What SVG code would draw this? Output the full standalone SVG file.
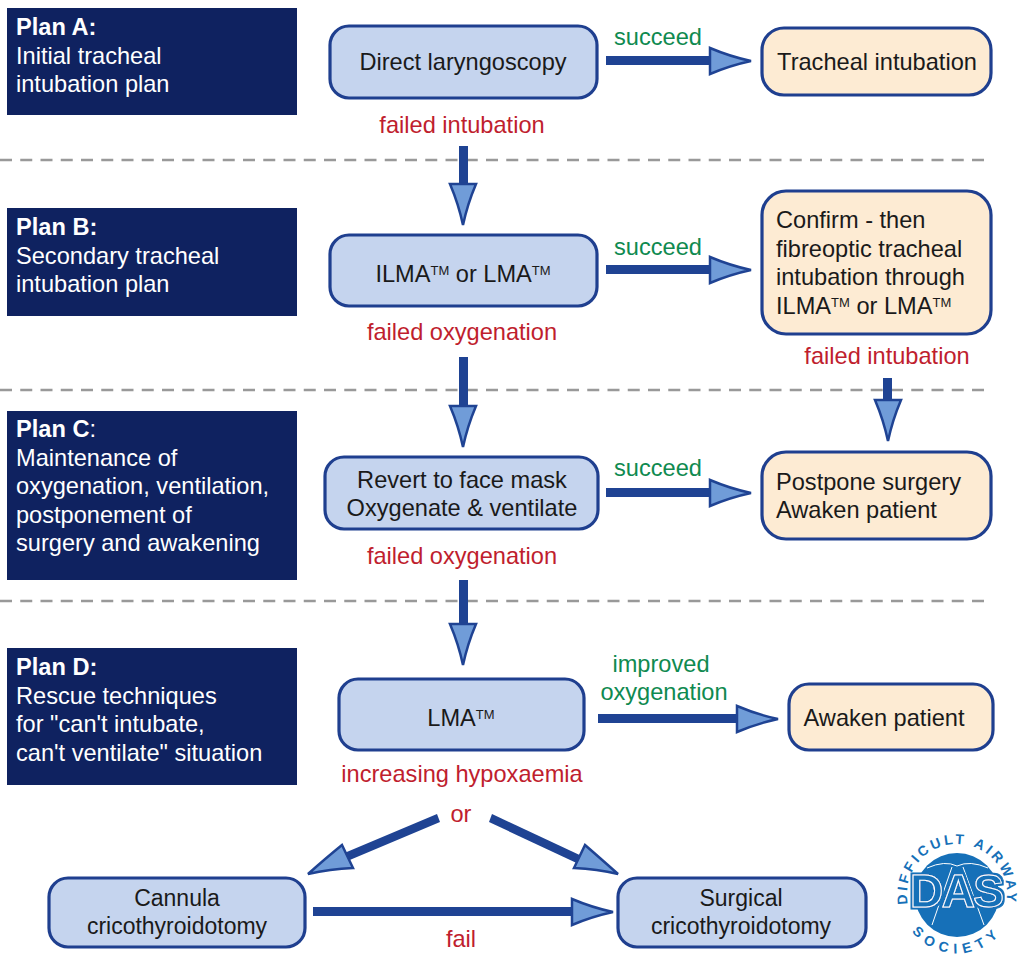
<svg xmlns="http://www.w3.org/2000/svg" width="1024" height="965" viewBox="0 0 1024 965">
<style>
text{font-family:"Liberation Sans",Arial,sans-serif;font-size:23.600px}
.plan{fill:#0f2260}
.pt{fill:#fff}
.pt .b{font-weight:bold}
.bl{fill:#c5d4ee;stroke:#1f3f8f;stroke-width:3.2}
.or{fill:#fdebd3;stroke:#1f3f8f;stroke-width:3.2}
.t{fill:#1a1a1a}
.c{text-anchor:middle}
.s{font-size:23px}
.g{fill:#0f8a50}
.r{fill:#bf1e2e}
.sh{fill:#1f4393}
.hd{fill:#709cd8;stroke:#1f4393;stroke-width:2.500;stroke-linejoin:miter}
.dash{stroke:#999;stroke-width:2.500;stroke-dasharray:12 8.250;fill:none}
.sup{font-size:13px}
.logo{fill:#1670b8;font-weight:bold;font-size:14px}
</style>
<defs>
<path id="arcTop" d="M909 908A50 50 0 1 1 1005 908"/>
<path id="arcBot" d="M905 921A58 58 0 0 0 1009 921"/>
<path id="head" class="hd" d="M0 -13V13Q20 4.500 41 0Q20 -4.500 0 -13Z"/>
<filter id="halo" x="-10%" y="-10%" width="120%" height="120%">
<feMorphology in="SourceAlpha" operator="dilate" radius="1.500" result="d"/>
<feFlood flood-color="#1670b8"/>
<feComposite in2="d" operator="in" result="o"/>
<feMerge><feMergeNode in="o"/><feMergeNode in="SourceGraphic"/></feMerge>
</filter>
</defs>
<rect width="1024" height="965" fill="#fff"/>
<g id="dividers">
<path class="dash" d="M0 160H986"/>
<path class="dash" d="M0 390H986"/>
<path class="dash" d="M0 601H986"/>
</g>
<g id="plan-a"><rect class="plan" x="7" y="8" width="290" height="107"/><text class="pt" x="16" y="35"><tspan class="b">Plan A:</tspan><tspan x="16" dy="28.500">Initial tracheal</tspan><tspan x="16" dy="28.500">intubation plan</tspan></text></g>
<g id="plan-b"><rect class="plan" x="7" y="208" width="290" height="108"/><text class="pt" x="16" y="235"><tspan class="b">Plan B:</tspan><tspan x="16" dy="28.500">Secondary tracheal</tspan><tspan x="16" dy="28.500">intubation plan</tspan></text></g>
<g id="plan-c"><rect class="plan" x="7" y="411" width="290" height="169"/><text class="pt" x="16" y="437"><tspan class="b">Plan C</tspan>:<tspan x="16" dy="28.500">Maintenance of</tspan><tspan x="16" dy="28.500">oxygenation, ventilation,</tspan><tspan x="16" dy="28.500">postponement of</tspan><tspan x="16" dy="28.500">surgery and awakening</tspan></text></g>
<g id="plan-d"><rect class="plan" x="7" y="648" width="290" height="137"/><text class="pt" x="16" y="675"><tspan class="b">Plan D:</tspan><tspan x="16" dy="28.500">Rescue techniques</tspan><tspan x="16" dy="28.500">for "can't intubate,</tspan><tspan x="16" dy="28.500">can't ventilate" situation</tspan></text></g>

<g id="direct-laryngoscopy"><rect class="bl" x="330" y="26" width="267" height="72" rx="19"/><text class="t c" x="463" y="70">Direct laryngoscopy</text></g>
<g id="tracheal-intubation"><rect class="or" x="762" y="28" width="229" height="67" rx="22"/><text class="t c" x="877" y="70">Tracheal intubation</text></g>
<g id="ilma-lma"><rect class="bl" x="330" y="235" width="267" height="71" rx="19"/><text class="t c" x="463" y="282">ILMA<tspan class="sup" dy="-7">TM</tspan><tspan dy="7"> or LMA</tspan><tspan class="sup" dy="-7">TM</tspan></text></g>
<g id="confirm"><rect class="or" x="762" y="191" width="229" height="143" rx="24"/><text class="t" x="776" y="228">Confirm - then<tspan x="776" dy="28.500">fibreoptic tracheal</tspan><tspan x="776" dy="28.500">intubation through</tspan><tspan x="776" dy="28.500">ILMA</tspan><tspan class="sup" dy="-7">TM</tspan><tspan dy="7"> or LMA</tspan><tspan class="sup" dy="-7">TM</tspan></text></g>
<g id="revert"><rect class="bl" x="325" y="457" width="273" height="72" rx="19"/><text class="t c" x="462" y="488">Revert to face mask<tspan x="462" dy="28">Oxygenate &amp; ventilate</tspan></text></g>
<g id="postpone"><rect class="or" x="762" y="452" width="229" height="87" rx="24"/><text class="t" x="776" y="490">Postpone surgery<tspan x="776" dy="28">Awaken patient</tspan></text></g>
<g id="lma"><rect class="bl" x="339" y="679" width="245" height="71" rx="19"/><text class="t c" x="461" y="726">LMA<tspan class="sup" dy="-7">TM</tspan></text></g>
<g id="awaken"><rect class="or" x="789" y="684" width="204" height="66" rx="20"/><text class="t c" x="884" y="726">Awaken patient</text></g>
<g id="cannula"><rect class="bl" x="49" y="878" width="256" height="69" rx="19"/><text class="t c s" x="177" y="906">Cannula<tspan x="177" dy="28">cricothyroidotomy</tspan></text></g>
<g id="surgical"><rect class="bl" x="618" y="878" width="248" height="69" rx="19"/><text class="t c s" x="741" y="906">Surgical<tspan x="741" dy="28">cricothyroidotomy</tspan></text></g>

<g id="connectors">
<rect class="sh" x="606" y="56" width="105" height="9"/><use href="#head" transform="translate(710 61)"/>
<rect class="sh" x="606" y="265" width="105" height="9"/><use href="#head" transform="translate(710 270)"/>
<rect class="sh" x="606" y="488" width="105" height="9"/><use href="#head" transform="translate(710 493)"/>
<rect class="sh" x="598" y="714" width="140" height="9"/><use href="#head" transform="translate(737 719)"/>
<rect class="sh" x="459" y="146" width="9" height="39"/><use href="#head" transform="translate(463 184) rotate(90)"/>
<rect class="sh" x="459" y="357" width="9" height="50"/><use href="#head" transform="translate(463 406) rotate(90)"/>
<rect class="sh" x="459" y="580" width="9" height="45"/><use href="#head" transform="translate(463 624) rotate(90)"/>
<rect class="sh" x="883" y="378" width="9" height="23"/><use href="#head" transform="translate(888 400) rotate(90)"/>
<rect class="sh" x="313" y="907" width="260" height="9"/><use href="#head" transform="translate(572 912)"/>
<polygon class="sh" points="437,814 440,822 345,862 342,854"/><path class="hd" d="M342 845L353 868Q330 869 308 874Q326 858 342 845Z"/>
<polygon class="sh" points="492,814 489,822 583,866 586,858"/><path class="hd" d="M585 845L574 868Q597 869 618 874Q600 858 585 845Z"/>
</g>

<g id="labels">
<text class="g c" x="658" y="45">succeed</text>
<text class="g c" x="658" y="255">succeed</text>
<text class="g c" x="658" y="476">succeed</text>
<text class="g c" x="661" y="672">improved<tspan x="664" dy="28">oxygenation</tspan></text>
<text class="r c" x="462" y="133">failed intubation</text>
<text class="r c" x="462" y="340">failed oxygenation</text>
<text class="r c" x="887" y="364">failed intubation</text>
<text class="r c" x="462" y="564">failed oxygenation</text>
<text class="r c" x="462" y="782">increasing hypoxaemia</text>
<text class="r c" x="461" y="822">or</text>
<text class="r c" x="461" y="947">fail</text>
</g>

<g id="das-logo">
<circle cx="957" cy="895" r="42" fill="#1670b8"/>
<path d="M927 868Q945 860 957 866Q970 860 988 868M952 867L932 925M963 867L984 925" fill="none" stroke="#fff" stroke-width="1"/>
<text x="957" y="907" text-anchor="middle" style="font-size:46px;font-weight:bold" fill="#1670b8" stroke="#fff" stroke-width="1" filter="url(#halo)" textLength="94" lengthAdjust="spacing">DAS</text>
<text class="logo"><textPath href="#arcTop" startOffset="50%" text-anchor="middle" letter-spacing="3">DIFFICULT AIRWAY</textPath></text>
<text class="logo"><textPath href="#arcBot" startOffset="50%" text-anchor="middle" letter-spacing="6">SOCIETY</textPath></text>
</g>
</svg>
